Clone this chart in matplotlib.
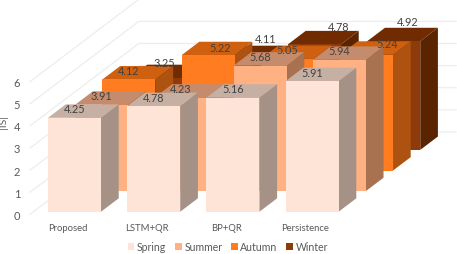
import matplotlib
matplotlib.use("Agg")
import matplotlib.pyplot as plt
import numpy as np

plt.rcParams['font.family'] = ['Lato', 'DejaVu Sans']

methods = ["Proposed", "LSTM+QR", "BP+QR", "Persistence"]
seasons = ["Spring", "Summer", "Autumn", "Winter"]
spring = [4.25, 4.78, 5.16, 5.91]
summer = [3.91, 4.23, 5.68, 5.94]
autumn = [4.12, 5.22, 5.05, 5.24]
winter = [3.25, 4.11, 4.78, 4.92]
y_ticks = [0, 1, 2, 3, 4, 5, 6]

front_cols = ["#FDE4D6", "#FFB183", "#FF7D20", "#8F3A0A"]
top_cols = ["#C6AFA3", "#C48C6D", "#CE600F", "#702C00"]
side_cols = ["#A69187", "#A8714F", "#AD5210", "#5B2400"]

# label nudges in pixels, the original chart has some labels moved by hand
label_nudge = [
    [(0, 9), (0, 9), (0, 9), (0, 9)],
    [(0, 9), (0, 9), (0, 9), (0, 9)],
    [(0, 9), (12, 8), (0, 9), (21, 11)],
    [(8, 16), (30, 21), (24, 18), (14, 20)],
]

# oblique projection: one season step back moves this far in data units
step_x = 27.2 / 79.2
step_y = 20.6 / 22.1
bar_depth = 0.65
gap = 0.126
bar_w = 53 / 79.2

fig = plt.figure(figsize=(4.57, 2.55), dpi=100)
ax = fig.add_axes([30 / 457, 39.7 / 255, 427 / 457, 215.3 / 255])
x_left = -0.519
ax.set_xlim(x_left, x_left + 427 / 79.2)
ax.set_ylim(0, 215.3 / 22.1)

# wall and floor lines
for v in y_ticks:
    ax.plot([x_left, x_left + 4 * step_x, x_left + 426 / 79.2],
            [v, v + 4 * step_y, v + 4 * step_y],
            color="#EDEDED", lw=0.9, zorder=1, clip_on=False)

series = [spring, summer, autumn, winter]
x = np.arange(len(methods))
handles = [None] * 4
z = 2
for k in range(3, -1, -1):
    d = gap + k
    left = x - bar_w / 2 + d * step_x
    base = d * step_y
    vals = np.array(series[k])
    bars = ax.bar(left, vals, width=bar_w, bottom=base, align="edge",
                  color=front_cols[k], lw=0, zorder=z + 1, label=seasons[k])
    handles[k] = bars
    ox, oy = bar_depth * step_x, bar_depth * step_y
    for i in range(len(methods)):
        l, r = left[i], left[i] + bar_w
        t = base + vals[i]
        ax.fill([l, r, r + ox, l + ox], [t, t, t + oy, t + oy],
                color=top_cols[k], lw=0, zorder=z)
        ax.fill([r, r + ox, r + ox, r], [base, base + oy, t + oy, t],
                color=side_cols[k], lw=0, zorder=z)
        nx, ny = label_nudge[k][i]
        ax.annotate(f"{vals[i]:.2f}", (l + bar_w / 2, t), xytext=(nx, ny),
                    textcoords="offset pixels", ha="center", va="center",
                    fontsize=7.8, color="#404040", zorder=30)
    z += 2

for s in ax.spines.values():
    s.set_visible(False)
ax.patch.set_alpha(0)
ax.set_xticks(x - 0.04, methods)
ax.set_yticks(y_ticks)
ax.tick_params(axis="x", length=0, pad=6, labelsize=6.8, labelcolor="#595959")
ax.tick_params(axis="y", length=0, pad=7, labelsize=8, labelcolor="#595959")
ax.set_ylabel("|IS|", fontsize=7.5, color="#595959")
ax.yaxis.set_label_coords(-22 / 427, 1 - 122 / 215.3)

fig.legend(handles=handles, labels=seasons, ncols=4, loc="center",
           bbox_to_anchor=(228 / 457, 1 - 248 / 255), frameon=False,
           fontsize=7.6, labelcolor="#595959", handlelength=0.6,
           handleheight=0.6, handletextpad=0.25, columnspacing=0.85,
           borderpad=0, borderaxespad=0)

fig.savefig("out.png", dpi=100)
